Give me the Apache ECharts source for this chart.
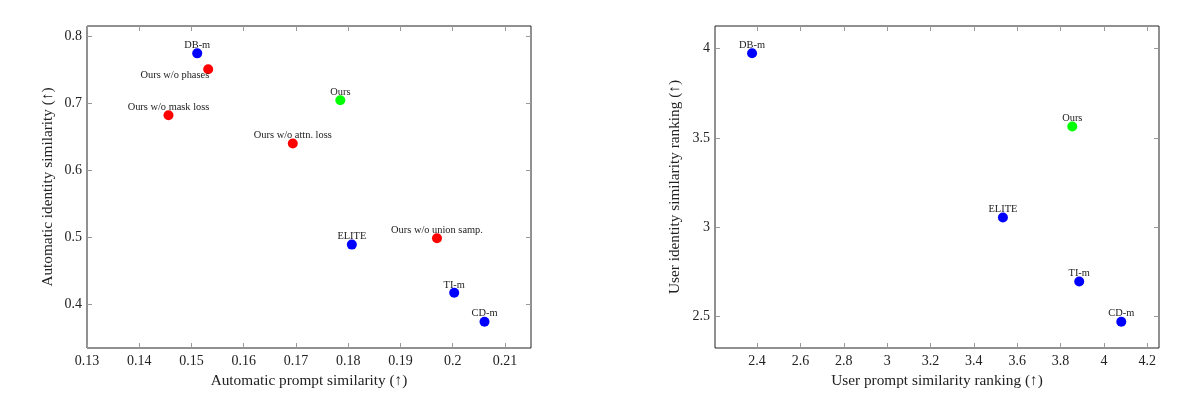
<!DOCTYPE html>
<html>
<head>
<meta charset="utf-8">
<script src="https://cdn.jsdelivr.net/npm/echarts@6/dist/echarts.min.js"></script>
<style>
  html, body { margin: 0; padding: 0; background: #fff; }
  #chart { width: 1200px; height: 397px; }
</style>
</head>
<body>
<div id="chart"></div>
<script>
// left panel: automatic metrics
const autoNames = ['DB-m', 'Ours w/o phases', 'Ours', 'Ours w/o mask loss', 'Ours w/o attn. loss', 'ELITE', 'Ours w/o union samp.', 'TI-m', 'CD-m']
const autoKind = ['baseline', 'ablation', 'ours', 'ablation', 'ablation', 'baseline', 'ablation', 'baseline', 'baseline']
const autoPrompt = [0.1511, 0.1532, 0.1785, 0.1456, 0.1694, 0.1807, 0.1970, 0.2003, 0.2061]
const autoIdentity = [0.7742, 0.7504, 0.7042, 0.6819, 0.6397, 0.4888, 0.4983, 0.4169, 0.3737]
const autoXTicks = [0.13, 0.14, 0.15, 0.16, 0.17, 0.18, 0.19, 0.2, 0.21]
const autoYTicks = [0.4, 0.5, 0.6, 0.7, 0.8]

// right panel: user study rankings
const userNames = ['DB-m', 'Ours', 'ELITE', 'TI-m', 'CD-m']
const userKind = ['baseline', 'ours', 'baseline', 'baseline', 'baseline']
const userPrompt = [2.377, 3.854, 3.534, 3.886, 4.080]
const userIdentity = [3.974, 3.564, 3.054, 2.696, 2.470]
const userXTicks = [2.4, 2.6, 2.8, 3, 3.2, 3.4, 3.6, 3.8, 4, 4.2]
const userYTicks = [2.5, 3, 3.5, 4]

const kindColor = { baseline: '#0000ff', ablation: '#ff0000', ours: '#00ff00' }
const serif = '"Liberation Serif", "DejaVu Serif", serif'
const textColor = '#222'

// label tweaks (the one that sits left of its dot)
const labelOverride = {
	'Ours w/o phases': { position: 'left', distance: 0, offset: [6, 6] }
}

function makeSeries(names, kinds, xs, ys, axisIdx) {
	return Object.keys(kindColor).map(kind => {
		const data = []
		names.forEach((n, i) => {
			if (kinds[i] !== kind) return
			const item = { name: n, value: [xs[i], ys[i]] }
			if (labelOverride[n]) item.label = labelOverride[n]
			data.push(item)
		})
		return {
			type: 'scatter',
			xAxisIndex: axisIdx,
			yAxisIndex: axisIdx,
			symbolSize: 10,
			itemStyle: { color: kindColor[kind], opacity: 1 },
			label: {
				show: true,
				position: 'top',
				distance: -2,
				formatter: '{b}',
				fontFamily: serif,
				fontSize: 10.4,
				color: textColor
			},
			emphasis: { disabled: true },
			data
		}
	})
}

function mainAxis(dim, gridIndex, min, max, ticks, name, nameGap) {
	return {
		type: 'value',
		gridIndex,
		min,
		max,
		name,
		nameLocation: 'middle',
		nameGap,
		nameTextStyle: { fontFamily: serif, fontSize: 15.3, color: textColor },
		axisLine: { show: false },
		splitLine: { show: false },
		axisTick: { show: true, inside: true, length: 5, customValues: ticks, lineStyle: { color: '#999' } },
		axisLabel: {
			show: true,
			customValues: ticks,
			fontFamily: serif,
			fontSize: 14,
			color: textColor,
			margin: dim === 'x' ? 6 : 5
		}
	}
}

function mirrorAxis(gridIndex, min, max, ticks, position) {
	return {
		type: 'value',
		gridIndex,
		min,
		max,
		position,
		axisLine: { show: false },
		splitLine: { show: false },
		axisTick: { show: true, inside: true, length: 5, customValues: ticks, lineStyle: { color: '#999' } },
		axisLabel: { show: false }
	}
}

const chart = echarts.init(document.getElementById('chart'), null, { renderer: 'canvas' })

chart.setOption({
	backgroundColor: '#fff',
	animation: false,
	grid: [
		{ left: 87, top: 26, width: 444, height: 322, show: true, borderColor: '#222', borderWidth: 1 },
		{ left: 715, top: 26, width: 444, height: 322, show: true, borderColor: '#222', borderWidth: 1 }
	],
	xAxis: [
		mainAxis('x', 0, 0.13, 0.215, autoXTicks, 'Automatic prompt similarity (↑)', 25),
		mainAxis('x', 1, 2.206, 4.254, userXTicks, 'User prompt similarity ranking (↑)', 25),
		mirrorAxis(0, 0.13, 0.215, autoXTicks, 'top'),
		mirrorAxis(1, 2.206, 4.254, userXTicks, 'top')
	],
	yAxis: [
		mainAxis('y', 0, 0.3345, 0.815, autoYTicks, 'Automatic identity similarity (↑)', 32),
		mainAxis('y', 1, 2.323, 4.127, userYTicks, 'User identity similarity ranking (↑)', 33),
		mirrorAxis(0, 0.3345, 0.815, autoYTicks, 'right'),
		mirrorAxis(1, 2.323, 4.127, userYTicks, 'right')
	],
	series: [
		...makeSeries(autoNames, autoKind, autoPrompt, autoIdentity, 0),
		...makeSeries(userNames, userKind, userPrompt, userIdentity, 1)
	]
})
</script>
</body>
</html>
